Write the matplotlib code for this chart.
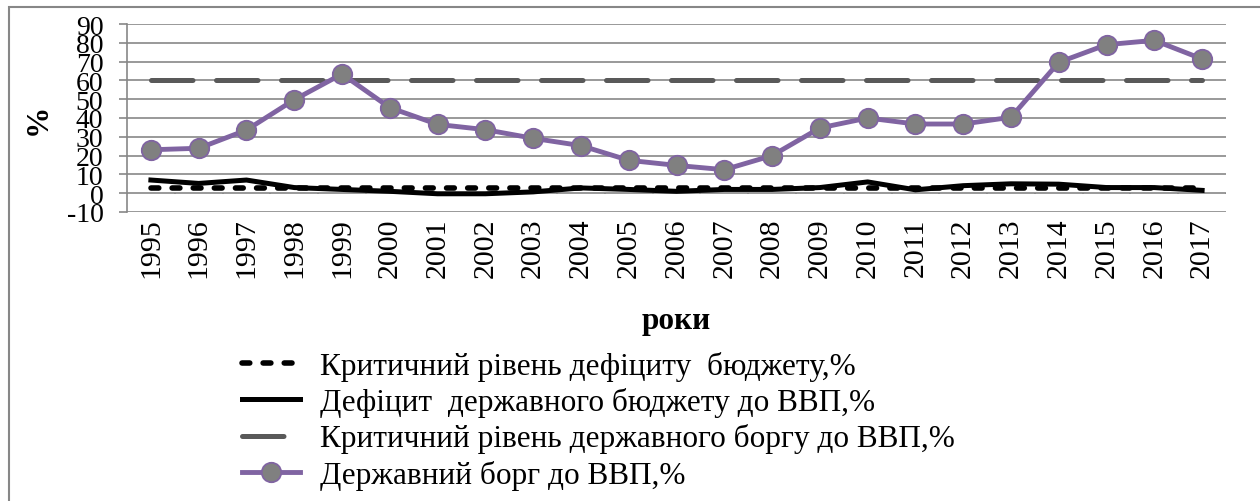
import numpy as np
import matplotlib
matplotlib.use("Agg")
import matplotlib.pyplot as plt
from matplotlib.patches import Rectangle

# Data
years = [str(y) for y in range(1995, 2018)]
debt = [23.1, 23.9, 33.6, 49.7, 63.4, 45.5, 36.6, 33.8, 29.2, 25.3, 17.5, 14.8,
        12.5, 20.0, 34.7, 40.0, 36.8, 36.8, 40.4, 69.6, 79.0, 81.3, 71.4]
deficit = [7.0, 5.2, 7.0, 3.0, 2.0, 1.0, -0.3, -0.3, 0.7, 2.8, 2.0, 1.0,
           2.0, 2.0, 3.0, 6.0, 1.8, 4.0, 5.0, 4.8, 3.0, 3.0, 1.5]
crit_deficit = [3] * len(years)
crit_debt = [60] * len(years)

labels = ["Критичний рівень дефіциту  бюджету,%",
          "Дефіцит  державного бюджету до ВВП,%",
          "Критичний рівень державного боргу до ВВП,%",
          "Державний борг до ВВП,%"]

plt.rcParams['font.family'] = ['Liberation Serif', 'DejaVu Serif']
grid_col = "#878787"

W, H = 1260, 502
fig = plt.figure(figsize=(W / 100, H / 100), dpi=100)
ax = fig.add_axes([127 / W, 1 - 213 / H, (1226 - 127) / W, (213 - 25) / H])

x = np.arange(len(years))

ax.plot(x, crit_deficit, color="black", lw=4.0, dashes=(1.4, 2.4),
        dash_capstyle="round", label=labels[0], zorder=3)
ax.plot(x, deficit, color="black", lw=3.6, solid_joinstyle="round",
        label=labels[1], zorder=4)
ax.plot(x, crit_debt, color="#595959", lw=3.6, dashes=(8.3, 4.7),
        dash_capstyle="round", label=labels[2], zorder=3)
ax.plot(x, debt, color="#8064A2", lw=3.5, marker="o", markersize=14,
        markerfacecolor="#808080", markeredgecolor="#8064A2", markeredgewidth=1.3,
        label=labels[3], zorder=5)

ax.set_xlim(-0.5, len(years) - 0.5)
ax.set_ylim(-10, 90)
ax.set_yticks(np.arange(-10, 91, 10))
ax.set_yticklabels([str(v) for v in range(-10, 91, 10)])
ax.set_xticks(x)
ax.set_xticklabels(years, rotation=90)
ax.tick_params(axis='x', length=0, pad=4, labelsize=21.5)
ax.tick_params(axis='y', length=6, width=1.2, color=grid_col, pad=11, labelsize=20)

ax.grid(axis='y', color=grid_col, lw=1.2)
ax.set_axisbelow(True)
for s in ["top", "right", "bottom"]:
    ax.spines[s].set_visible(False)
ax.spines["left"].set_color(grid_col)
ax.spines["left"].set_linewidth(1.2)

# category boundary ticks hanging from the zero line
ax.vlines(np.arange(len(years) + 1) - 0.5, -0.45, 0, color=grid_col, lw=1.2, zorder=1)

ax.set_xlabel("роки", fontsize=22.5, fontweight="bold")
ax.xaxis.set_label_coords(0.5, -0.5)
ax.set_ylabel("%", fontsize=22.5, fontweight="bold")
ax.yaxis.set_label_coords(-0.068, 0.5)

fig.legend(loc="upper left", bbox_to_anchor=(242 / W, 1 - 352 / H), frameon=False,
           fontsize=22.5, handlelength=1.86, handletextpad=0.64, labelspacing=0.2,
           borderpad=0, borderaxespad=0)

fig.patches.append(Rectangle((9 / W, -0.1), 1.2, 1.1 - 8 / H, transform=fig.transFigure,
                             fill=False, edgecolor=grid_col, lw=1.5))

fig.savefig("out.png", dpi=100)
